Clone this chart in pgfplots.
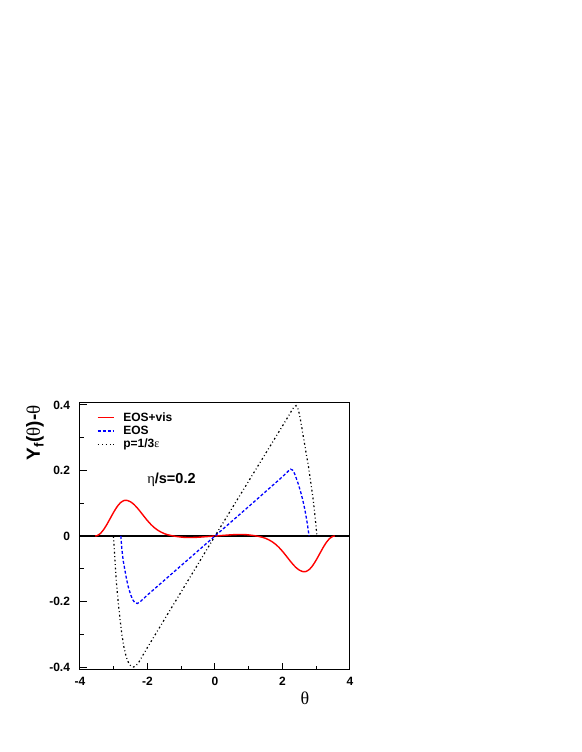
\documentclass[border=0pt]{standalone}
\usepackage{fontspec}
\setmainfont{Liberation Sans}
\newfontfamily\symf{Liberation Serif}
\usepackage{pgfplots}
\pgfplotsset{compat=1.18}
\begin{document}
\begin{tikzpicture}
\begin{axis}[
  at={(0pt,0pt)}, anchor=south west,
  scale only axis, width=270pt, height=268pt,
  xmin=-4, xmax=4, ymin=-0.409, ymax=0.409,
  axis line style={line width=1pt},
  tick pos=left, tick align=inside,
  major tick length=7pt, minor tick length=4pt,
  every tick/.style={black, line width=1pt},
  xtick={-4,-2,0,2,4}, xticklabels={-4,-2,0,2,4},
  minor xtick={-3,-1,1,3},
  ytick={-0.4,-0.2,0,0.2,0.4}, yticklabels={-0.4,-0.2,0,0.2,0.4},
  minor ytick={-0.3,-0.1,0.1,0.3},
  /pgf/number format/assume math mode=true,
  ticklabel style={font=\bfseries\fontsize{12}{14}\selectfont},
  yticklabel style={xshift=-6.5pt},
  xticklabel style={yshift=-4pt},
  xlabel={{\symf\fontsize{18}{20}\selectfont θ}},
  xlabel style={at={(axis description cs:0.833,-0.104)}, anchor=center},
  ylabel={\fontsize{19}{22}\selectfont\bfseries Y\textsubscript{f}({\symf\mdseries θ})-{\symf\mdseries θ}},
  ylabel style={at={(axis description cs:-0.167,1)}, anchor=east},
  legend style={at={(axis description cs:0.062,0.963)}, anchor=north west,
    draw=none, fill=none, inner sep=0pt, row sep=2pt, column sep=9pt,
    font=\bfseries\fontsize{12}{14}\selectfont,
    nodes={inner sep=0pt, text height=9pt, text depth=2.3pt}},
  legend cell align=left,
  legend image code/.code={\draw[#1] (0pt,0pt) -- (16pt,0pt);},
]
\addplot[black, line width=1.2pt, forget plot] coordinates {(-4,0) (4,0)};
\addplot[red, line width=1.4pt, smooth, tension=0.5, forget plot] table {
x y
-3.55 0
-3.50 0.0008
-3.40 0.0073
-3.30 0.0195
-3.20 0.0359
-3.10 0.0545
-3.00 0.0731
-2.90 0.0895
-2.80 0.1017
-2.70 0.1082
-2.65 0.1090
-2.60 0.1085
-2.50 0.1042
-2.40 0.0962
-2.30 0.0853
-2.20 0.0727
-2.10 0.0595
-2.00 0.0468
-1.90 0.0354
-1.80 0.0257
-1.70 0.0179
-1.60 0.0120
-1.50 0.0072
-1.40 0.0038
-1.30 0.0015
-1.20 -0.0005
-1.10 -0.0021
-1.00 -0.0033
-0.90 -0.0043
-0.80 -0.0046
-0.70 -0.0046
-0.60 -0.0043
-0.50 -0.0038
-0.40 -0.0031
-0.30 -0.0023
-0.20 -0.0015
-0.10 -0.0007
0.00 0
0.10 0.0007
0.20 0.0015
0.30 0.0023
0.40 0.0031
0.50 0.0038
0.60 0.0043
0.70 0.0046
0.80 0.0046
0.90 0.0043
1.00 0.0033
1.10 0.0021
1.20 0.0005
1.30 -0.0015
1.40 -0.0038
1.50 -0.0072
1.60 -0.0120
1.70 -0.0179
1.80 -0.0257
1.90 -0.0354
2.00 -0.0468
2.10 -0.0595
2.20 -0.0727
2.30 -0.0853
2.40 -0.0962
2.50 -0.1042
2.60 -0.1085
2.65 -0.1090
2.70 -0.1082
2.80 -0.1017
2.90 -0.0895
3.00 -0.0731
3.10 -0.0545
3.20 -0.0359
3.30 -0.0195
3.40 -0.0073
3.50 -0.0008
3.55 0
};
\addplot[blue, line width=1.3pt, dash pattern=on 3pt off 2pt, forget plot] table {
x y
-2.79 0
-2.76 -0.040
-2.72 -0.075
-2.67 -0.104
-2.62 -0.132
-2.57 -0.155
-2.50 -0.179
-2.44 -0.194
-2.38 -0.203
-2.30 -0.206
-2.20 -0.199
-2.00 -0.180
-1.00 -0.090
0.00 0
1.00 0.090
2.00 0.181
2.10 0.191
2.20 0.201
2.24 0.204
2.30 0.201
2.36 0.190
2.42 0.173
2.47 0.158
2.54 0.134
2.60 0.110
2.66 0.082
2.70 0.059
2.74 0.035
2.77 0.012
2.79 0
};
\addplot[black, line width=1.2pt, dash pattern=on 1.8pt off 2.6pt on 0.9pt off 2.6pt, forget plot] table {
x y
-3.01 0
-2.98 -0.050
-2.95 -0.100
-2.91 -0.155
-2.86 -0.210
-2.81 -0.257
-2.76 -0.300
-2.70 -0.338
-2.64 -0.365
-2.59 -0.381
-2.52 -0.394
-2.46 -0.399
-2.42 -0.400
-2.35 -0.397
-2.25 -0.384
-2.00 -0.340
-1.00 -0.170
0.00 0
1.00 0.168
2.00 0.336
2.20 0.370
2.30 0.388
2.40 0.398
2.45 0.392
2.50 0.372
2.55 0.345
2.60 0.314
2.68 0.265
2.77 0.212
2.84 0.162
2.91 0.110
2.97 0.055
3.02 0
};
\addlegendimage{red, line width=1.4pt}
\addlegendentry{EOS+vis}
\addlegendimage{blue, line width=1.3pt, dash pattern=on 3pt off 2pt}
\addlegendentry{EOS}
\addlegendimage{black, line width=1.2pt, dash pattern=on 1.8pt off 2.6pt on 0.9pt off 2.6pt}
\addlegendentry{p=1/3{\symf\mdseries ε}}
\node[font=\fontsize{14.5}{16}\selectfont, anchor=center] at (axis cs:-1.29,0.171) {{\symf η}\textbf{/s=0.2}};
\end{axis}
\pgfresetboundingbox
\path[use as bounding box] (-80pt,-82pt) rectangle (501pt,670pt);
\end{tikzpicture}
\end{document}
